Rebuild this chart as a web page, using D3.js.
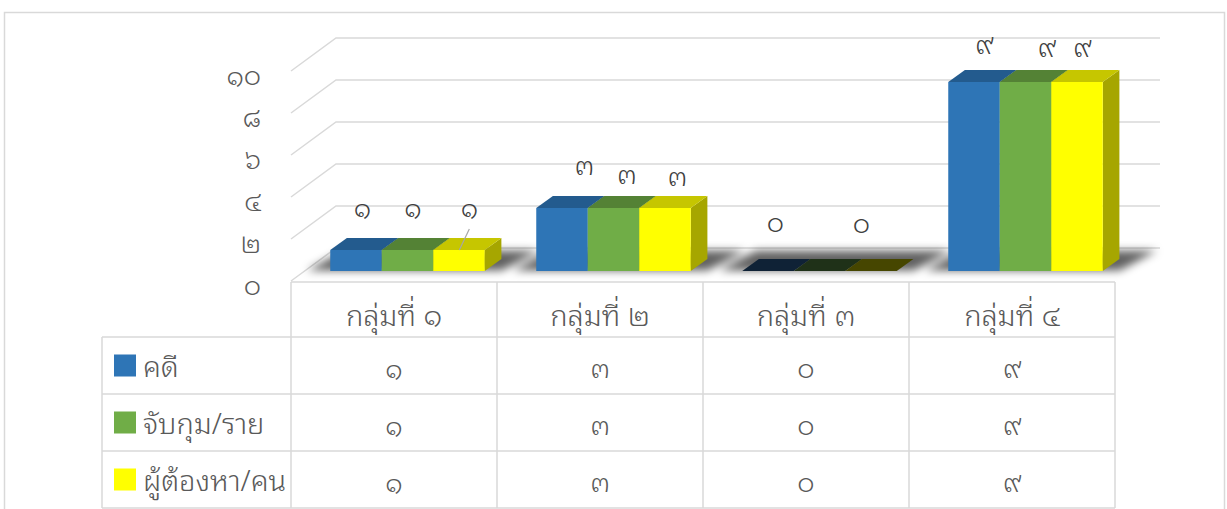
<!DOCTYPE html>
<html>
<head>
<meta charset="utf-8">
<script src="https://cdn.jsdelivr.net/npm/d3@7"></script>
<style>
  body { margin: 0; background: #fff; }
  svg text { font-family: "Leelawadee UI", "Noto Sans Thai Looped", "Noto Sans Thai", Tahoma, "Noto Sans", sans-serif; font-weight: 300; }
</style>
</head>
<body>
<svg id="chart" width="1227" height="509"></svg>
<script>
const categories = ['กลุ่มที่ ๑', 'กลุ่มที่ ๒', 'กลุ่มที่ ๓', 'กลุ่มที่ ๔'];
const seriesNames = ['คดี', 'จับกุม/ราย', 'ผู้ต้องหา/คน'];
const cases = [1, 3, 0, 9];
const arrests = [1, 3, 0, 9];
const suspects = [1, 3, 0, 9];
const yTicks = [0, 2, 4, 6, 8, 10];

const seriesValues = [cases, arrests, suspects];

// bar face colours per series: front, top, side, flat (zero height)
const faceColors = [
  { front: '#2E75B6', top: '#235B8E', side: '#1F4E79', flat: '#0F2236' },
  { front: '#70AD47', top: '#548235', side: '#4A7530', flat: '#1F3118' },
  { front: '#FFFF00', top: '#C6C600', side: '#A6A600', flat: '#464600' }
];

// hand nudges for data labels, [category][series], null = no label
const labelNudge = [
  [[-2, -34], [-3, -34], [2, -34]],
  [[14, -34], [5, -25], [4, -23]],
  [[-1, -40], null, [-18, -39]],
  [[2, -29], [13, -26], [-3, -26]]
];

const toThai = n => String(n).replace(/[0-9]/g, d => '๐๑๒๓๔๕๖๗๘๙'[d]);

const svg = d3.select('#chart');

// 3d layout
const floorY = 281;
const depthX = 45, depthY = 33;
const zFront = 0.3, zBack = 0.67;

const x = d3.scaleBand()
  .domain(categories)
  .range([291, 1115]);
const xs = d3.scaleBand()
  .domain(d3.range(seriesNames.length))
  .range([x.bandwidth() * 0.125, x.bandwidth() * 0.875]);
const y = d3.scaleLinear()
  .domain([0, 10])
  .range([0, 210]);

// project (screen x on front plane, value, depth 0..1) to screen
const P = (px, v, z) => [px + z * depthX, floorY - y(v) - z * depthY];
const poly = pts => pts.map(p => p.join(',')).join(' ');

// outer frame
svg.append('rect')
  .attr('x', 4.5).attr('y', 12.5)
  .attr('width', 1220).attr('height', 600)
  .attr('fill', '#fff')
  .attr('stroke', '#D9D9D9')
  .attr('stroke-width', 1.5);

const defs = svg.append('defs');
defs.append('filter')
  .attr('id', 'blur')
  .attr('x', '-30%').attr('y', '-100%')
  .attr('width', '160%').attr('height', '300%')
  .append('feGaussianBlur')
  .attr('stdDeviation', 4);

const [x0, x1] = x.range();

// gridlines: back wall + left wall diagonals
const grid = svg.append('g').attr('class', 'grid');
yTicks.forEach(t => {
  grid.append('polyline')
    .attr('points', poly([P(x0, t, 0), P(x0, t, 1), P(x1, t, 1)]))
    .attr('fill', 'none')
    .attr('stroke', '#D9D9D9')
    .attr('stroke-width', 1.5);
});

// y axis labels
svg.append('g')
  .selectAll('text')
  .data(yTicks)
  .join('text')
  .attr('x', 261)
  .attr('y', d => P(x0, d, 0)[1] + 7)
  .attr('text-anchor', 'end')
  .attr('dominant-baseline', 'middle')
  .attr('fill', '#595959')
  .style('font-size', '27px')
  .text(d => toThai(d));

// shadows on the floor
const shadows = svg.append('g')
  .attr('filter', 'url(#blur)');
categories.forEach(c => {
  const a = x(c) + xs(0) - 24;
  const b = x(c) + xs(seriesNames.length - 1) + xs.bandwidth() + 26;
  shadows.append('polygon')
    .attr('points', poly([P(a, 0, zFront + 0.02), P(b - 10, 0, zFront + 0.02), P(b, 0, zBack + 0.25), P(a + 10, 0, zBack + 0.25)]))
    .attr('fill', '#000')
    .attr('opacity', 0.62);
});

// bars
const bars = svg.append('g').attr('class', 'bars');
categories.forEach((c, ci) => {
  seriesValues.forEach((vals, si) => {
    const v = vals[ci];
    const bx = x(c) + xs(si);
    const bw = xs.bandwidth();
    const col = faceColors[si];
    const g = bars.append('g');
    if (v === 0) {
      g.append('polygon')
        .attr('points', poly([P(bx, 0, zFront), P(bx + bw, 0, zFront), P(bx + bw, 0, zBack), P(bx, 0, zBack)]))
        .attr('fill', col.flat);
      return;
    }
    g.append('polygon')
      .attr('points', poly([P(bx + bw, 0, zFront), P(bx + bw, v, zFront), P(bx + bw, v, zBack), P(bx + bw, 0, zBack)]))
      .attr('fill', col.side);
    g.append('polygon')
      .attr('points', poly([P(bx, v, zFront), P(bx + bw, v, zFront), P(bx + bw, v, zBack), P(bx, v, zBack)]))
      .attr('fill', col.top);
    g.append('polygon')
      .attr('points', poly([P(bx, 0, zFront), P(bx + bw, 0, zFront), P(bx + bw, v, zFront), P(bx, v, zFront)]))
      .attr('fill', col.front);
  });
});

// data labels
const labels = svg.append('g');
categories.forEach((c, ci) => {
  seriesValues.forEach((vals, si) => {
    const nudge = labelNudge[ci][si];
    if (!nudge) return;
    const v = vals[ci];
    const cx = x(c) + xs(si) + xs.bandwidth() / 2;
    const top = P(cx, v, (zFront + zBack) / 2);
    const lx = top[0] + nudge[0], ly = top[1] + nudge[1];
    if (ci === 0 && si === 2) {
      labels.append('line')
        .attr('x1', lx).attr('y1', ly + 19)
        .attr('x2', top[0] - 8).attr('y2', top[1] + 6)
        .attr('stroke', '#A6A6A6')
        .attr('stroke-width', 1.2);
    }
    labels.append('text')
      .attr('x', lx)
      .attr('y', ly)
      .attr('text-anchor', 'middle')
      .attr('dominant-baseline', 'middle')
      .attr('fill', '#404040')
      .style('font-size', '27px')
      .text(toThai(v));
  });
});

// data table
const tableTop = 282, headerH = 55, rowH = 57;
const leftX = 102;
const table = svg.append('g').attr('class', 'table');
const lineColor = '#D9D9D9';
const hline = (xa, xb, yy) => table.append('line')
  .attr('x1', xa).attr('x2', xb).attr('y1', yy).attr('y2', yy)
  .attr('stroke', lineColor).attr('stroke-width', 1.5);
const vline = (xx, ya, yb) => table.append('line')
  .attr('x1', xx).attr('x2', xx).attr('y1', ya).attr('y2', yb)
  .attr('stroke', lineColor).attr('stroke-width', 1.5);

const rowsTop = tableTop + headerH;
const tableBottom = rowsTop + rowH * seriesNames.length;
hline(x0, x1, tableTop);
d3.range(seriesNames.length + 1).forEach(i => hline(leftX, x1, rowsTop + i * rowH));
vline(leftX, rowsTop, tableBottom);
categories.forEach(c => vline(x(c), tableTop, tableBottom));
vline(x1, tableTop, tableBottom);

table.selectAll('text.cat')
  .data(categories)
  .join('text')
  .attr('class', 'cat')
  .attr('x', d => x(d) + x.bandwidth() / 2)
  .attr('y', tableTop + headerH / 2 + 9)
  .attr('text-anchor', 'middle')
  .attr('dominant-baseline', 'middle')
  .attr('fill', '#595959')
  .style('font-size', '29px')
  .text(d => d);

seriesNames.forEach((name, si) => {
  const cy = rowsTop + si * rowH + rowH / 2;
  table.append('rect')
    .attr('x', 114).attr('y', cy - 11)
    .attr('width', 22).attr('height', 22)
    .attr('fill', faceColors[si].front);
  table.append('text')
    .attr('x', 143)
    .attr('y', cy + 4)
    .attr('dominant-baseline', 'middle')
    .attr('fill', '#595959')
    .style('font-size', '29px')
    .text(name);
  categories.forEach((c, ci) => {
    table.append('text')
      .attr('x', x(c) + x.bandwidth() / 2)
      .attr('y', cy + 5)
      .attr('text-anchor', 'middle')
      .attr('dominant-baseline', 'middle')
      .attr('fill', '#595959')
      .style('font-size', '27px')
      .text(toThai(seriesValues[si][ci]));
  });
});
</script>
</body>
</html>
